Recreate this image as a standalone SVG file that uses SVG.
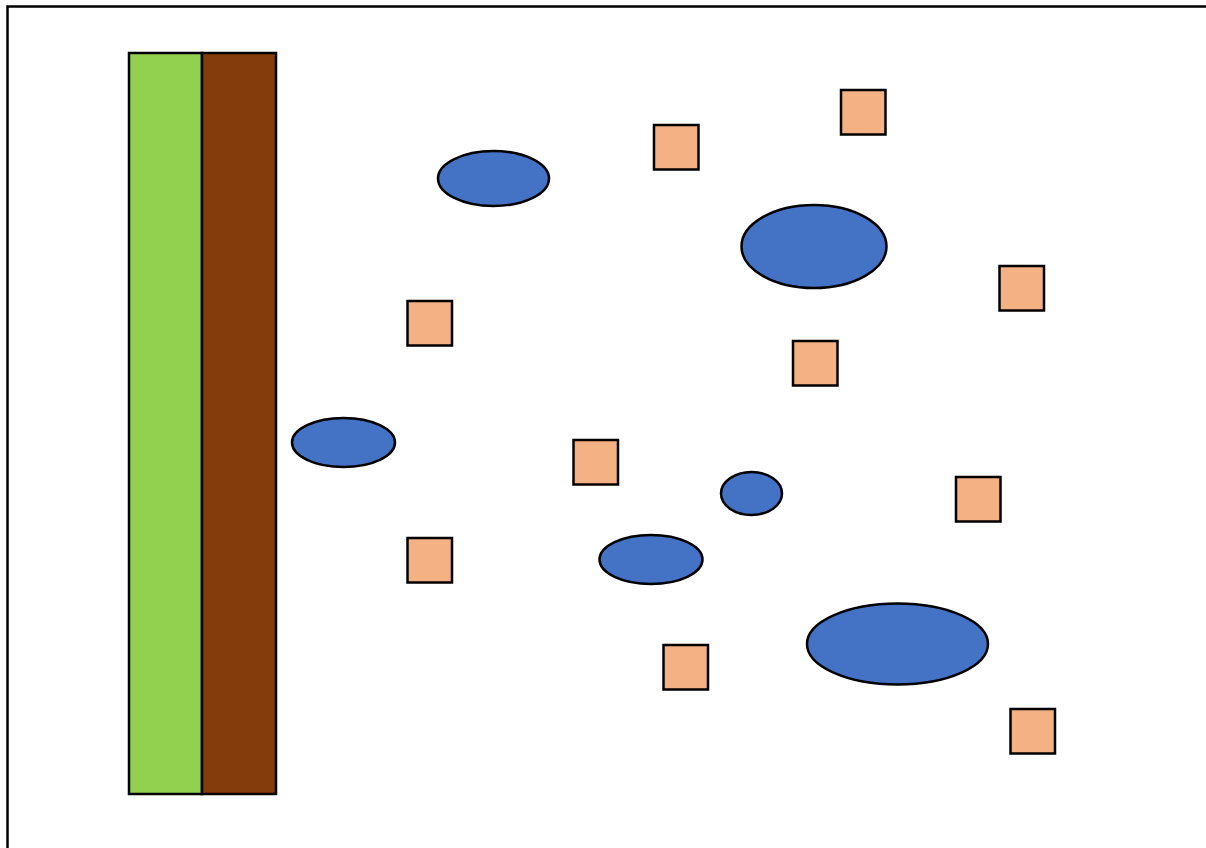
<svg xmlns="http://www.w3.org/2000/svg" width="1206" height="848" viewBox="0 0 1206 848">
<style>
.s{stroke:#000;stroke-width:2.5}
.b{fill:#4472C4}
.p{fill:#F4B183}
</style>
<rect width="1206" height="848" fill="#fff"/>
<path d="M7.5 848 V6.5 H1206" fill="none" stroke="#000" stroke-width="2.5"/>
<g id="strip">
<rect class="s" x="129" y="53" width="73" height="741" fill="#92D050"/>
<rect class="s" x="202" y="53" width="74" height="741" fill="#843C0C"/>
</g>
<g id="ellipses">
<ellipse class="s b" cx="493.5" cy="178.5" rx="55.5" ry="27.5"/>
<ellipse class="s b" cx="814" cy="246.5" rx="72.5" ry="41.5"/>
<ellipse class="s b" cx="343.5" cy="442.5" rx="51.5" ry="24.5"/>
<ellipse class="s b" cx="751.5" cy="493.5" rx="30.5" ry="21.5"/>
<ellipse class="s b" cx="651" cy="559.5" rx="51.5" ry="24.5"/>
<ellipse class="s b" cx="897.5" cy="644" rx="90.5" ry="40.5"/>
</g>
<g id="squares">
<rect class="s p" x="654" y="125" width="44.5" height="44.5"/>
<rect class="s p" x="841" y="90" width="44.5" height="44.5"/>
<rect class="s p" x="999.5" y="266" width="44.5" height="44.5"/>
<rect class="s p" x="407.5" y="301" width="44.5" height="44.5"/>
<rect class="s p" x="793" y="341" width="44.5" height="44.5"/>
<rect class="s p" x="573.5" y="440" width="44.5" height="44.5"/>
<rect class="s p" x="956" y="477" width="44.5" height="44.5"/>
<rect class="s p" x="407.5" y="538" width="44.5" height="44.5"/>
<rect class="s p" x="663.5" y="645" width="44.5" height="44.5"/>
<rect class="s p" x="1010.5" y="709" width="44.5" height="44.5"/>
</g>
</svg>
